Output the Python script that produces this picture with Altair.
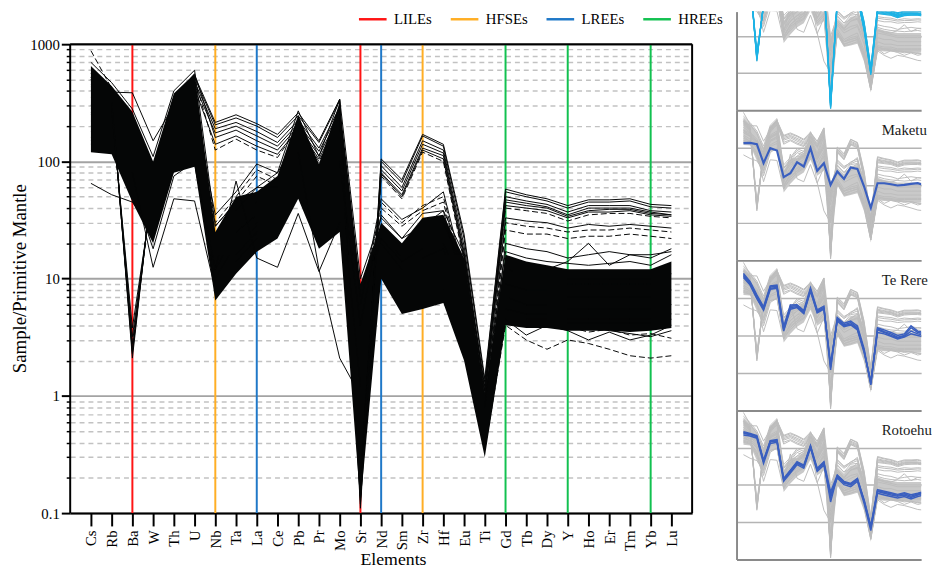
import json
import altair as alt
import pandas as pd

ELEMENTS = ["Cs", "Rb", "Ba", "W", "Th", "U", "Nb", "Ta", "La", "Ce", "Pb", "Pr", "Mo", "Sr",
            "Nd", "Sm", "Zr", "Hf", "Eu", "Ti", "Gd", "Tb", "Dy", "Y", "Ho", "Er", "Tm", "Yb", "Lu"]

Y_TICKS = [0.1, 0.2, 0.3, 0.4, 0.5, 0.6, 0.7, 0.8, 0.9,
           1, 2, 3, 4, 5, 6, 7, 8, 9,
           10, 20, 30, 40, 50, 60, 70, 80, 90,
           100, 200, 300, 400, 500, 600, 700, 800, 900, 1000]
Y_MIN, Y_MAX = 0.1, 1000

# dense envelope of the bulk of the samples (lower / upper)
BULK_LO = [120, 115, 45, 20, 80, 90, 6.5, 11, 17, 22, 48, 18, 25, 0.12, 10, 5, 5.5, 6.2, 2.0, 0.3,
           4.0, 3.8, 3.8, 3.6, 3.6, 3.6, 3.5, 3.6, 3.8]
BULK_HI = [650, 440, 265, 100, 380, 560, 25, 50, 55, 75, 250, 95, 320, 9, 30, 20, 33, 35, 15, 1.0,
           16, 14, 13, 12, 12, 12, 12, 12, 14]

# high-HFSE samples (Ba and Sr troughs)
B1 = [520, 340, 2.3, 75, 330, 520, 205, 235, 200, 160, 245, 145, 330, 0.12, 100, 66, 165, 135, 22, 1.3, 55, 50, 46, 40, 45, 45, 46, 41, 40]
B2 = [480, 320, 2.8, 68, 300, 480, 190, 215, 180, 145, 225, 130, 290, 0.15, 92, 60, 150, 125, 19, 1.1, 50, 46, 43, 37, 42, 42, 42, 38, 37]
B3 = [430, 300, 3.2, 62, 280, 450, 175, 200, 165, 135, 210, 122, 270, 0.18, 85, 56, 140, 118, 17, 1.0, 47, 44, 41, 35, 40, 40, 40, 37, 35]
B4 = [560, 360, 2.1, 80, 350, 560, 160, 185, 150, 125, 200, 112, 250, 0.11, 80, 52, 130, 112, 16, 1.2, 45, 42, 40, 34, 38, 39, 39, 36, 35]
B5 = [400, 280, 3.8, 58, 260, 420, 140, 165, 135, 115, 190, 105, 235, 0.2, 78, 50, 125, 105, 15, 0.9, 42, 40, 38, 33, 37, 37, 38, 35, 34]
B6 = [450, 310, 2.6, 70, 310, 500, 125, 155, 125, 108, 195, 100, 220, 0.14, 75, 48, 120, 100, 14, 1.0, 40, 38, 36, 31, 35, 36, 36, 34, 33]
B7 = [500, 330, 2.4, 72, 320, 540, 215, 250, 210, 170, 260, 150, 340, 0.13, 105, 70, 170, 140, 24, 1.4, 58, 52, 48, 42, 47, 47, 48, 43, 42]

# scattered profiles at the edges of the bulk
T1 = [880, 420, 240, 90, 350, 480, 20, 35, 45, 60, 200, 70, 250, 6, 25, 15, 25, 28, 10, 0.8, 12, 11, 10, 9, 9, 9, 9, 9, 10]
T2 = [65, 52, 45, 25, 85, 95, 12, 25, 35, 50, 120, 40, 80, 3, 20, 12, 15, 18, 6, 0.6, 9, 8, 8, 7, 7, 7, 7, 7, 8]
T3 = [520, 390, 385, 150, 300, 400, 22, 40, 50, 60, 180, 60, 200, 7, 25, 16, 25, 30, 12, 0.9, 14, 12, 11, 10, 10, 10, 10, 10, 11]
T4 = [150, 130, 80, 12.5, 48, 46, 8, 16, 25, 35, 90, 30, 60, 2, 15, 8, 10, 12, 4, 0.5, 7, 6, 6, 5.5, 5.5, 5.5, 5.5, 5.5, 6]
T5 = [200, 150, 100, 45, 120, 150, 12, 68, 15, 12.5, 36, 11.5, 30, 1.5, 12, 7, 9, 10, 3, 0.45, 5.5, 5, 5, 4.5, 4.5, 4.5, 4.5, 4.5, 5]
T6 = [300, 200, 120, 50, 150, 200, 15, 25, 35, 40, 120, 12, 2.1, 1.0, 11, 7, 8, 9, 3, 0.4, 5, 4.5, 4.5, 4.2, 4.2, 4.2, 4.2, 4.2, 4.5]
T7 = [250, 200, 150, 60, 200, 250, 15, 30, 45, 55, 150, 50, 120, 5, 22, 14, 18, 20, 8, 0.7, 14, 13, 12, 14, 20, 13, 16, 15, 18]
T8 = [180, 150, 100, 40, 150, 180, 9, 20, 28, 35, 90, 30, 60, 1, 12, 6, 7, 8, 3, 0.35, 4, 3, 2.5, 3, 2.8, 2.5, 2.2, 2.1, 2.2]
T9 = [220, 170, 110, 45, 160, 200, 10, 20, 30, 40, 100, 30, 70, 1.2, 13, 7, 8, 9, 3.5, 0.4, 4.5, 3.3, 4, 3.6, 3, 3.5, 3.0, 3.3, 4]
E3 = [140, 125, 60, 18, 75, 100, 9, 14, 22, 28, 60, 22, 35, 0.3, 12, 6, 7, 8, 2.5, 0.35, 5, 4.5, 4.2, 4, 3.8, 3.6, 3.4, 3.2, 3.6]
E4 = [700, 470, 280, 110, 400, 600, 28, 45, 60, 80, 270, 110, 340, 10, 33, 22, 36, 38, 16, 1.1, 17, 15, 14, 13.5, 13, 13.5, 14, 13, 16]
E5 = [160, 140, 70, 30, 110, 130, 10, 18, 24, 30, 70, 25, 40, 0.5, 11, 5.5, 6, 7, 2.8, 0.4, 4.6, 4.2, 4, 3.9, 3.5, 3.7, 3.3, 3.4, 3.1]

# intermediate profiles
M1 = [300, 250, 150, 60, 200, 250, 30, 50, 85, 70, 150, 55, 120, 5, 45, 30, 42, 50, 10, 0.7, 30, 28, 27, 25, 26, 26, 27, 26, 25]
M2 = [350, 260, 170, 70, 220, 280, 35, 55, 95, 80, 160, 60, 140, 6, 48, 32, 40, 55, 11, 0.8, 33, 31, 30, 27, 29, 28, 29, 28, 27]
M3 = [280, 230, 140, 55, 180, 230, 28, 45, 75, 62, 140, 52, 110, 4, 40, 28, 38, 45, 9, 0.65, 26, 24, 24, 22, 23, 23, 24, 23, 22]
M4 = [260, 210, 140, 55, 190, 230, 22, 38, 60, 60, 140, 48, 100, 4, 35, 22, 28, 38, 8, 0.6, 20, 18, 17, 15, 16, 17, 16, 16, 17]

SOLID = {"B1": B1, "B2": B2, "B3": B3, "B4": B4, "B5": B5, "B7": B7, "T2": T2, "T3": T3, "T4": T4,
         "T5": T5, "T6": T6, "T7": T7, "T9": T9, "E3": E3, "E4": E4, "M2": M2, "M4": M4}
DASHED = {"B6": B6, "T1": T1, "T8": T8, "E5": E5, "M1": M1, "M3": M3}
HIGH_HFSE = {"B1": B1, "B2": B2, "B3": B3, "B4": B4, "B5": B5, "B6": B6, "B7": B7}

MAKETU = [133, 135, 125, 39, 98, 85, 16.5, 21, 41.5, 31.8, 98, 24.4, 39, 10.3, 23.4, 14.9, 29.9, 27.5, 9.3, 2.5,
          11.4, 11.4, 10.7, 9.9, 10.3, 11, 11.4, 9.9, 8.4]
TE_RERE = {
    "TR1": [420, 250, 110, 53, 195, 205, 15, 60, 62, 42, 170, 45, 56, 1.4, 28, 19, 22, 16, 4.0, 0.50, 15, 12.5, 11, 9, 10, 16, 12, 11, 12],
    "TR2": [380, 230, 100, 50, 180, 190, 14, 55, 58, 40, 160, 42, 52, 1.6, 26, 18, 20, 15, 3.8, 0.55, 14, 12, 10, 8.5, 9.5, 13, 11, 10, 11],
    "TR3": [450, 270, 120, 58, 210, 220, 17, 65, 66, 46, 185, 48, 60, 1.2, 30, 21, 24, 18, 4.4, 0.48, 16, 14, 12, 10, 11, 18, 13, 12, 13],
    "TR4": [350, 220, 95, 47, 170, 180, 13, 50, 55, 38, 150, 40, 50, 1.8, 24, 17, 19, 14, 3.5, 0.6, 12, 11, 9.5, 8, 9, 11, 10, 9, 9.5],
}
ROTOEHU = {
    "RO1": [241, 226, 196, 42, 144, 150, 13.7, 23, 38, 31, 106, 25, 38, 5.4, 16.9, 11.2, 10, 13.7, 3.6, 0.7, 6.7, 6.0, 5.4, 5.0, 5.4, 4.6, 5.4, 6.0, 7.4],
    "RO2": [270, 240, 210, 46, 155, 165, 15, 25, 42, 34, 115, 28, 42, 6.5, 18.5, 12.5, 11, 15, 4.0, 0.8, 7.5, 6.8, 6.2, 5.6, 6.2, 5.5, 6.0, 6.8, 8.2],
    "RO3": [220, 205, 180, 38, 130, 140, 12.5, 21, 35, 28, 98, 23, 34, 4.6, 15.5, 10.2, 9, 12.5, 3.2, 0.6, 6.0, 5.4, 4.9, 4.5, 4.9, 4.2, 4.9, 5.4, 6.6],
    "RO4": [255, 230, 200, 44, 150, 158, 14, 24, 40, 32, 110, 26, 40, 3.5, 17.5, 11.8, 10.5, 14.5, 3.8, 0.75, 7.0, 6.4, 5.8, 5.3, 5.8, 5.0, 5.7, 6.4, 7.8],
}

GUIDE_ELEMENTS = ["Ba", "Nb", "La", "Sr", "Nd", "Zr", "Gd", "Y", "Yb"]
GUIDE_GROUPS = ["LILEs", "HFSEs", "LREEs", "LILEs", "LREEs", "HFSEs", "HREEs", "HREEs", "HREEs"]
GROUP_NAMES = ["LILEs", "HFSEs", "LREEs", "HREEs"]
GROUP_COLORS = ["#ff1414", "#ffae24", "#1f78c8", "#12c150"]

FONT = "Liberation Serif"
N = len(ELEMENTS)

# main plot: 475 px for four decades, plus 33 px of headroom for the legend
PLOT_H = 508
Y_TOP = 10 ** (3 + 33 / 118.75)


def to_long(profiles):
    rows = []
    for name, vals in profiles.items():
        for i, v in enumerate(vals):
            rows.append({"series": name, "idx": i, "element": ELEMENTS[i], "value": v})
    return pd.DataFrame(rows)


bulk_df = pd.DataFrame({"idx": list(range(N)), "element": ELEMENTS, "lo": BULK_LO, "hi": BULK_HI})
solid_df = to_long(SOLID)
dashed_df = to_long(DASHED)
guide_df = pd.DataFrame({"idx": [ELEMENTS.index(e) for e in GUIDE_ELEMENTS], "group": GUIDE_GROUPS,
                         "lo": Y_MIN, "hi": Y_MAX})
frame_df = pd.DataFrame({"idx": [-1, N], "lo": [Y_MIN, Y_MIN], "hi": [Y_MAX, Y_MAX]})

MAJOR = "abs(log(datum.value)/LN10 - round(log(datum.value)/LN10)) < 0.001"

x_scale = alt.Scale(domain=[-1, N], nice=False, zero=False)
x_axis = alt.Axis(values=list(range(N)), labelExpr=json.dumps(ELEMENTS) + "[datum.value]",
                  labelAngle=270, labelAlign="right", labelBaseline="middle", labelFont=FONT,
                  labelFontSize=15, labelColor="black", labelPadding=4, labelOverlap=False,
                  tickSize=13, tickWidth=2, tickColor="black", domainColor="black", domainWidth=2,
                  grid=False, title="Elements", titleFont=FONT, titleFontSize=18,
                  titleFontWeight="normal", titleColor="black", titlePadding=0, titleX=327)
y_scale = alt.Scale(type="log", domain=[Y_MIN, Y_TOP], nice=False)
y_axis = alt.Axis(values=Y_TICKS, grid=True, domain=False,
                  gridColor={"condition": {"test": MAJOR, "value": "#a3a3a3"}, "value": "#c2c2c2"},
                  gridDash={"condition": {"test": MAJOR, "value": []}, "value": [5, 4]},
                  gridWidth={"condition": {"test": MAJOR, "value": 2}, "value": 1.5},
                  tickSize={"condition": {"test": MAJOR, "value": 9}, "value": 4},
                  tickWidth={"condition": {"test": MAJOR, "value": 2}, "value": 1.5},
                  tickColor="black",
                  labelExpr="(" + MAJOR + ") ? format(datum.value, '~g') : ''",
                  labelFont=FONT, labelFontSize=15, labelColor="black", labelPadding=2,
                  title="Sample/Primitive Mantle", titleFont=FONT, titleFontSize=19,
                  titleFontWeight="normal", titleColor="black", titlePadding=0, titleY=270)

x_enc = alt.X("idx:Q", scale=x_scale, axis=x_axis)

# a wide, flat line symbol: Vega sizes the entry from the unit box, the path extends past it
LEGEND_SYMBOL = "M-2.8,0L2.8,0"

rules = alt.Chart(guide_df).mark_rule(strokeWidth=2).encode(
    x=x_enc,
    y=alt.Y("lo:Q", scale=y_scale, axis=y_axis), y2="hi:Q",
    color=alt.Color("group:N", scale=alt.Scale(domain=GROUP_NAMES, range=GROUP_COLORS),
                    legend=alt.Legend(title=None, orient="none", legendX=299, legendY=0,
                                      direction="horizontal", columns=4, symbolType=LEGEND_SYMBOL,
                                      symbolStrokeWidth=2.5, symbolSize=100, labelFont=FONT,
                                      labelFontSize=15, labelColor="black", columnPadding=13,
                                      labelOffset=14)))
area = alt.Chart(bulk_df).mark_area(color="#050606", opacity=1).encode(
    x=x_enc, y=alt.Y("lo:Q", scale=y_scale, axis=y_axis), y2="hi:Q")
solid = alt.Chart(solid_df).mark_line(color="#050606", strokeWidth=1).encode(
    x=x_enc, y=alt.Y("value:Q", scale=y_scale, axis=y_axis), detail="series:N")
dashed = alt.Chart(dashed_df).mark_line(color="#050606", strokeWidth=1, strokeDash=[6, 3]).encode(
    x=x_enc, y=alt.Y("value:Q", scale=y_scale, axis=y_axis), detail="series:N")
frame_sides = alt.Chart(frame_df).mark_rule(color="black", strokeWidth=2).encode(
    x=x_enc, y=alt.Y("lo:Q", scale=y_scale, axis=y_axis), y2="hi:Q")
frame_top = alt.Chart(frame_df.head(1)).mark_rule(color="black", strokeWidth=2).encode(
    y=alt.Y("hi:Q", scale=y_scale, axis=y_axis))

main = alt.layer(rules, area, solid, dashed, frame_sides, frame_top).properties(
    width=630, height=PLOT_H, view=alt.ViewBackground(strokeWidth=0, stroke=None))

PANEL_FRAME = "#8a8a8a"
GRAY_FILL = "#c9c9c9"
GRAY_LINE = "#bdbdbd"
PANEL_W = 187
STEP = 6.79


def panel(height, ymax, grid_vals, hl_profiles, hl_color, hl_width, label):
    ys = alt.Scale(type="log", domain=[0.1, ymax], nice=False)
    xs = alt.Scale(domain=[-7 / STEP, (PANEL_W - 7) / STEP], nice=False, zero=False)
    xa = alt.Axis(labels=False, ticks=False, title=None, grid=False, domainColor=PANEL_FRAME, domainWidth=2)
    ya = alt.Axis(labels=False, ticks=False, title=None, values=grid_vals, grid=True, gridColor="#b4b4b4",
                  gridWidth=1.5, domainColor=PANEL_FRAME, domainWidth=2)
    x = alt.X("idx:Q", scale=xs, axis=xa)
    layers = [
        alt.Chart(bulk_df).mark_area(color=GRAY_FILL, clip=True).encode(
            x=x, y=alt.Y("lo:Q", scale=ys, axis=ya), y2="hi:Q"),
        alt.Chart(solid_df).mark_line(color=GRAY_LINE, strokeWidth=1, clip=True).encode(
            x=x, y=alt.Y("value:Q", scale=ys, axis=ya), detail="series:N"),
        alt.Chart(dashed_df).mark_line(color=GRAY_LINE, strokeWidth=1, clip=True).encode(
            x=x, y=alt.Y("value:Q", scale=ys, axis=ya), detail="series:N"),
        alt.Chart(to_long(hl_profiles)).mark_line(color=hl_color, strokeWidth=hl_width, clip=True).encode(
            x=x, y=alt.Y("value:Q", scale=ys, axis=ya), detail="series:N"),
    ]
    if label:
        layers.append(alt.Chart(pd.DataFrame({"name": [label]})).mark_text(
            align="left", baseline="middle", font=FONT, fontSize=15, color="#1a1a1a").encode(
            x=alt.value(147), y=alt.value(20), text="name:N"))
    return alt.layer(*layers).properties(width=PANEL_W, height=height,
                                         view=alt.ViewBackground(strokeWidth=0, stroke=None))


p1 = panel(100, 45, [1, 10], HIGH_HFSE, "#1cb3e6", 1.2, None)
p2 = panel(152, 1000, [1, 10, 100], {"Maketu": MAKETU}, "#3a5fbf", 2.2, "Maketu")
p3 = panel(152, 1000, [1, 10, 100], TE_RERE, "#3a5fbf", 1.5, "Te Rere")
p4 = panel(151, 1000, [1, 10, 100], ROTOEHU, "#3a5fbf", 1.5, "Rotoehu")

panels = alt.vconcat(p1, p2, p3, p4, spacing=0)

chart = alt.hconcat(main, panels, spacing=45, bounds="flush").resolve_scale(
    color="independent").resolve_legend(color="independent").properties(
    padding={"left": 3, "top": 0, "right": 0, "bottom": 0}).configure(font=FONT).configure_view(
    stroke=None).configure_legend(labelFont=FONT)

chart.save("out.html", embed_options={"renderer": "svg", "actions": False})
